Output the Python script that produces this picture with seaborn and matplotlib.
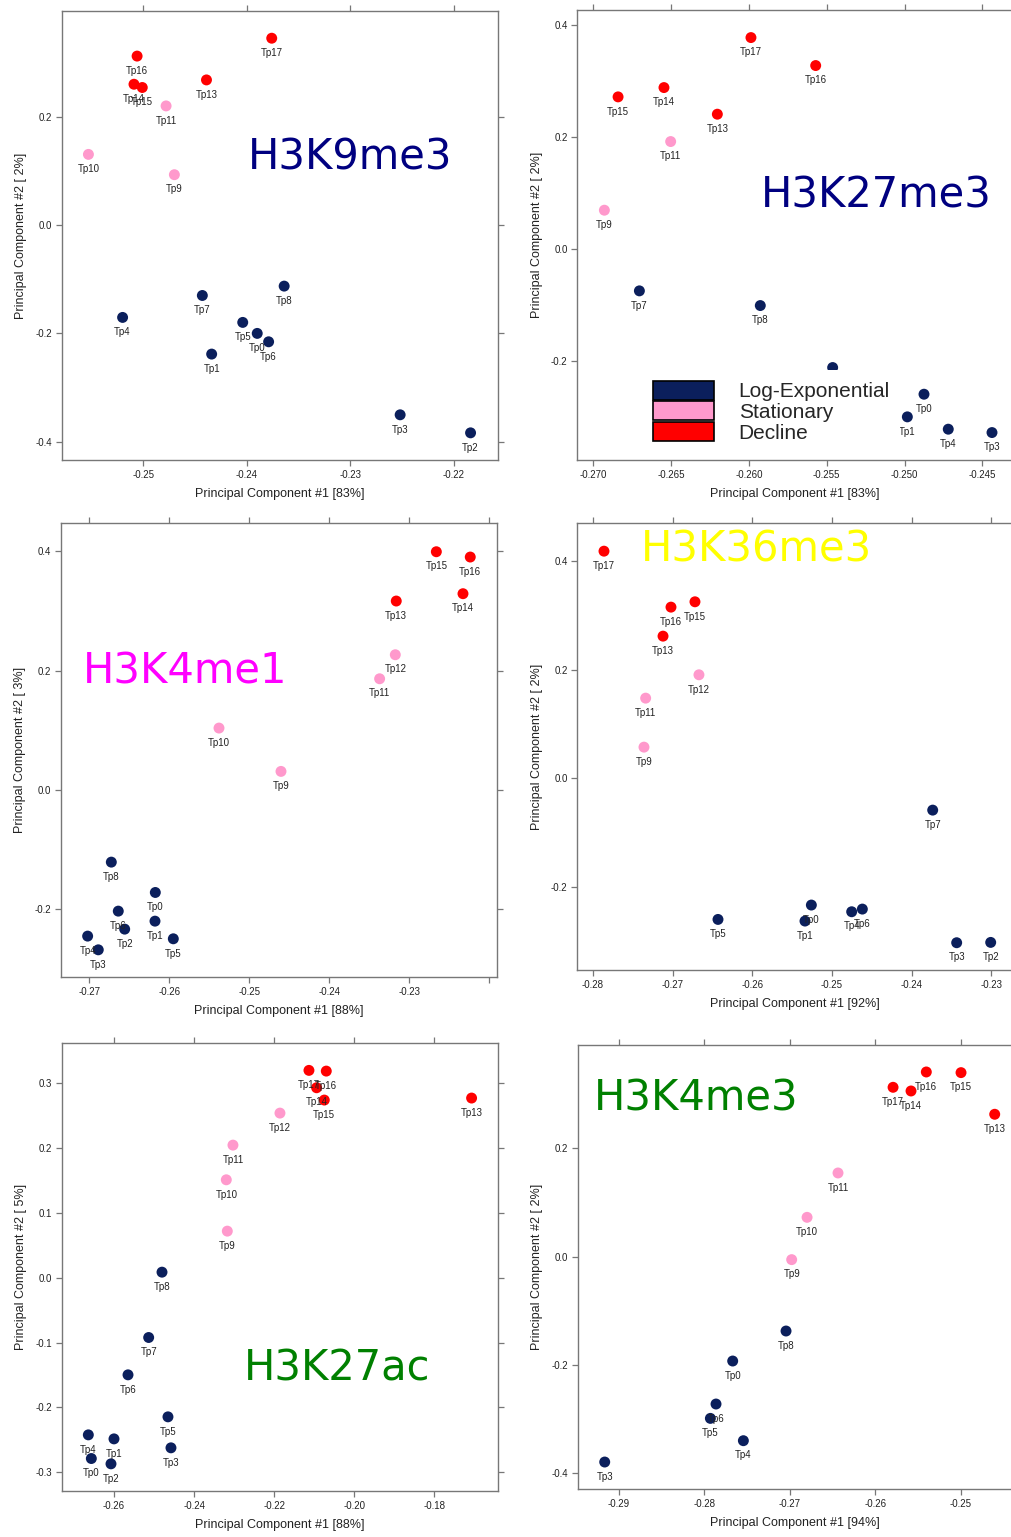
import numpy as np
import pandas as pd
import matplotlib
matplotlib.use("Agg")
import matplotlib.pyplot as plt
from matplotlib.patches import Patch
from matplotlib.ticker import FormatStrFormatter
import seaborn as sns

sns.set_style("white")
plt.rcParams["font.family"] = ["Liberation Sans", "DejaVu Sans"]
plt.rcParams["axes.unicode_minus"] = False

# ---- data ----
k9_labels = ["Tp17", "Tp16", "Tp14", "Tp15", "Tp13", "Tp11", "Tp10", "Tp9", "Tp8",
             "Tp7", "Tp4", "Tp5", "Tp0", "Tp6", "Tp1", "Tp3", "Tp2"]
k9_pc1 = [-0.2376, -0.2506, -0.2509, -0.2501, -0.2439, -0.2478, -0.2553, -0.2470, -0.2364,
          -0.2443, -0.2520, -0.2404, -0.2390, -0.2379, -0.2434, -0.2252, -0.2184]
k9_pc2 = [0.345, 0.312, 0.260, 0.254, 0.268, 0.220, 0.1305, 0.093, -0.1127,
          -0.130, -0.1705, -0.1797, -0.200, -0.2155, -0.2382, -0.3503, -0.3836]

k27me3_labels = ["Tp17", "Tp16", "Tp14", "Tp15", "Tp13", "Tp11", "Tp9", "Tp7", "Tp8",
                 "Tp6", "Tp0", "Tp1", "Tp4", "Tp3"]
k27me3_pc1 = [-0.25987, -0.25571, -0.26546, -0.26841, -0.26203, -0.26503, -0.26929, -0.26704,
              -0.25927, -0.25462, -0.24875, -0.24982, -0.24719, -0.24438]
k27me3_pc2 = [0.3776, 0.3277, 0.2884, 0.2718, 0.2409, 0.1921, 0.0696, -0.0743,
              -0.1005, -0.2111, -0.2587, -0.2991, -0.3211, -0.3271]

k4me1_labels = ["Tp15", "Tp16", "Tp14", "Tp13", "Tp12", "Tp11", "Tp10", "Tp9", "Tp8",
                "Tp0", "Tp6", "Tp1", "Tp2", "Tp5", "Tp4", "Tp3"]
k4me1_pc1 = [-0.22662, -0.22238, -0.22329, -0.23163, -0.23175, -0.23371, -0.25379, -0.24604,
             -0.26725, -0.26175, -0.26638, -0.26179, -0.26558, -0.2595, -0.27021, -0.26888]
k4me1_pc2 = [0.3993, 0.3904, 0.3289, 0.3166, 0.2265, 0.1862, 0.1035, 0.0308,
             -0.1214, -0.1723, -0.2036, -0.2204, -0.2338, -0.250, -0.2455, -0.2685]

k36_labels = ["Tp17", "Tp16", "Tp15", "Tp13", "Tp12", "Tp11", "Tp9", "Tp7", "Tp5",
              "Tp0", "Tp1", "Tp4", "Tp6", "Tp3", "Tp2"]
k36_pc1 = [-0.27862, -0.27021, -0.2672, -0.27121, -0.2667, -0.27339, -0.2736, -0.23736,
           -0.26431, -0.25259, -0.25339, -0.24753, -0.24619, -0.23435, -0.23008]
k36_pc2 = [0.4175, 0.3147, 0.3245, 0.2614, 0.1904, 0.1475, 0.0575, -0.0582,
           -0.259, -0.2326, -0.262, -0.2449, -0.240, -0.3018, -0.3012]

k27ac_labels = ["Tp17", "Tp16", "Tp14", "Tp15", "Tp13", "Tp12", "Tp11", "Tp10", "Tp9",
                "Tp8", "Tp7", "Tp6", "Tp5", "Tp3", "Tp4", "Tp1", "Tp0", "Tp2"]
k27ac_pc1 = [-0.21131, -0.20698, -0.2094, -0.20748, -0.17069, -0.21855, -0.23029, -0.23195,
             -0.2317, -0.24801, -0.25134, -0.2565, -0.24652, -0.24577, -0.26641, -0.2600,
             -0.26566, -0.26075]
k27ac_pc2 = [0.320, 0.3189, 0.2932, 0.2742, 0.2773, 0.2541, 0.2047, 0.1512, 0.072,
             0.0087, -0.0921, -0.1497, -0.2145, -0.2623, -0.2423, -0.2485, -0.2788, -0.287]

k4me3_labels = ["Tp17", "Tp14", "Tp16", "Tp15", "Tp13", "Tp11", "Tp10", "Tp9", "Tp8",
                "Tp0", "Tp6", "Tp5", "Tp4", "Tp3"]
k4me3_pc1 = [-0.25791, -0.25581, -0.25402, -0.24996, -0.24602, -0.26435, -0.26797, -0.26977,
             -0.27043, -0.27667, -0.27862, -0.27928, -0.27542, -0.29164]
k4me3_pc2 = [0.3127, 0.3059, 0.341, 0.3398, 0.2629, 0.1545, 0.0726, -0.0055,
             -0.1373, -0.1927, -0.2721, -0.2986, -0.3398, -0.3792]

phases = ["Log-Exponential", "Stationary", "Decline"]
palette = {"Log-Exponential": "#0b1f5c", "Stationary": "#ff99cc", "Decline": "#ff0000"}


def phase_of(label):
    n = int(label[2:])
    if n <= 8:
        return "Log-Exponential"
    if n <= 12:
        return "Stationary"
    return "Decline"


W, H = 1011, 1537
fig = plt.figure(figsize=(W / 100, H / 100), dpi=100)


def make_ax(left, right, top, bottom):
    return fig.add_axes([left / W, 1 - bottom / H, (right - left) / W, (bottom - top) / H])


panels = [
    dict(labels=k9_labels, pc1=k9_pc1, pc2=k9_pc2, box=(61.7, 497.7, 10.7, 460.3),
         xlim=(-0.25788, -0.21578), ylim=(-0.4343, 0.3958),
         xt=[-0.25, -0.24, -0.23, -0.22], xfmt="%.2f", yt=[-0.4, -0.2, 0.0, 0.2],
         pct1="83", pct2="2", name="H3K9me3", color="#000080", tpos=(0.427, 0.6457)),
    dict(labels=k27me3_labels, pc1=k27me3_pc1, pc2=k27me3_pc2, box=(577.3, 1013, 10, 460.3),
         xlim=(-0.27103, -0.24303), ylim=(-0.3766, 0.4268),
         xt=[-0.270, -0.265, -0.260, -0.255, -0.250, -0.245], xfmt="%.3f",
         yt=[-0.2, 0.0, 0.2, 0.4],
         pct1="83", pct2="2", name="H3K27me3", color="#000080", tpos=(0.4216, 0.5603)),
    dict(labels=k4me1_labels, pc1=k4me1_pc1, pc2=k4me1_pc2, box=(61, 497.3, 523.3, 977.3),
         xlim=(-0.27354, -0.219), ylim=(-0.3146, 0.447),
         xt=[-0.27, -0.26, -0.25, -0.24, -0.23, -0.22], xfmt="%.2f", yt=[-0.2, 0.0, 0.2, 0.4],
         pct1="88", pct2="3", name="H3K4me1", color="#ff00ff", tpos=(0.0497, 0.6482)),
    dict(labels=k36_labels, pc1=k36_pc1, pc2=k36_pc2, box=(577.3, 1013, 523.3, 970),
         xlim=(-0.28197, -0.22728), ylim=(-0.3519, 0.4687),
         xt=[-0.28, -0.27, -0.26, -0.25, -0.24, -0.23], xfmt="%.2f", yt=[-0.2, 0.0, 0.2, 0.4],
         pct1="92", pct2="2", name="H3K36me3", color="#ffff00", tpos=(0.1462, 0.914)),
    dict(labels=k27ac_labels, pc1=k27ac_pc1, pc2=k27ac_pc2, box=(61.7, 498.3, 1042.7, 1491),
         xlim=(-0.27306, -0.16402), ylim=(-0.3289, 0.3627),
         xt=[-0.26, -0.24, -0.22, -0.20, -0.18], xfmt="%.2f",
         yt=[-0.3, -0.2, -0.1, 0.0, 0.1, 0.2, 0.3],
         pct1="88", pct2="5", name="H3K27ac", color="#008000", tpos=(0.4175, 0.2476)),
    dict(labels=k4me3_labels, pc1=k4me3_pc1, pc2=k4me3_pc2, box=(577.7, 1013, 1045, 1489),
         xlim=(-0.2948, -0.24388), ylim=(-0.429, 0.3908),
         xt=[-0.29, -0.28, -0.27, -0.26, -0.25], xfmt="%.2f", yt=[-0.4, -0.2, 0.0, 0.2],
         pct1="94", pct2="2", name="H3K4me3", color="#008000", tpos=(0.0374, 0.8536)),
]

for i, p in enumerate(panels):
    ax = make_ax(*p["box"])
    df = pd.DataFrame({"label": p["labels"], "pc1": p["pc1"], "pc2": p["pc2"]})
    df["phase"] = df["label"].map(phase_of)
    sns.scatterplot(data=df, x="pc1", y="pc2", hue="phase", palette=palette,
                    hue_order=phases, s=62, linewidth=0, legend=False, ax=ax)
    for lab, x, y in zip(df["label"], df["pc1"], df["pc2"]):
        ax.annotate(lab, xy=(x, y), xytext=(0, -10.6), textcoords="offset points",
                    ha="center", va="center", fontsize=7, color="#222222")
    ax.set_xlim(*p["xlim"])
    ax.set_ylim(*p["ylim"])
    ax.set_xticks(p["xt"])
    ax.set_yticks(p["yt"])
    ax.xaxis.set_major_formatter(FormatStrFormatter(p["xfmt"]))
    ax.yaxis.set_major_formatter(FormatStrFormatter("%.1f"))
    if p["name"] == "H3K4me1":
        ax.set_xticklabels(["-0.27", "-0.26", "-0.25", "-0.24", "-0.23", ""])
    ax.tick_params(top=True, right=True, bottom=True, left=True, direction="out",
                   length=4, width=0.9, color="#777777", labelsize=7,
                   labelcolor="#222222", pad=3)
    for sp in ax.spines.values():
        sp.set_color("#777777")
        sp.set_linewidth(1.0)
    ax.set_xlabel("Principal Component #1 [" + p["pct1"] + "%]", fontsize=9,
                  color="#222222", labelpad=6)
    ax.set_ylabel("Principal Component #2 [ " + p["pct2"] + "%]", fontsize=9,
                  color="#222222", labelpad=6)
    ax.text(p["tpos"][0], p["tpos"][1], p["name"], transform=ax.transAxes,
            ha="left", va="baseline", fontsize=30, color=p["color"],
            family="DejaVu Sans", zorder=4)
    if p["name"] == "H3K27me3":
        handles = [Patch(facecolor=palette[ph], edgecolor="black", linewidth=1.2)
                   for ph in phases]
        leg = ax.legend(handles, phases, loc=(0.149, 0.016), fontsize=15,
                        handlelength=2.93, handleheight=1.03, labelspacing=0,
                        handletextpad=1.2, borderpad=0.5, frameon=True,
                        fancybox=False, framealpha=1)
        leg.get_frame().set_facecolor("white")
        leg.get_frame().set_edgecolor("none")

fig.savefig("out.png", dpi=100)
